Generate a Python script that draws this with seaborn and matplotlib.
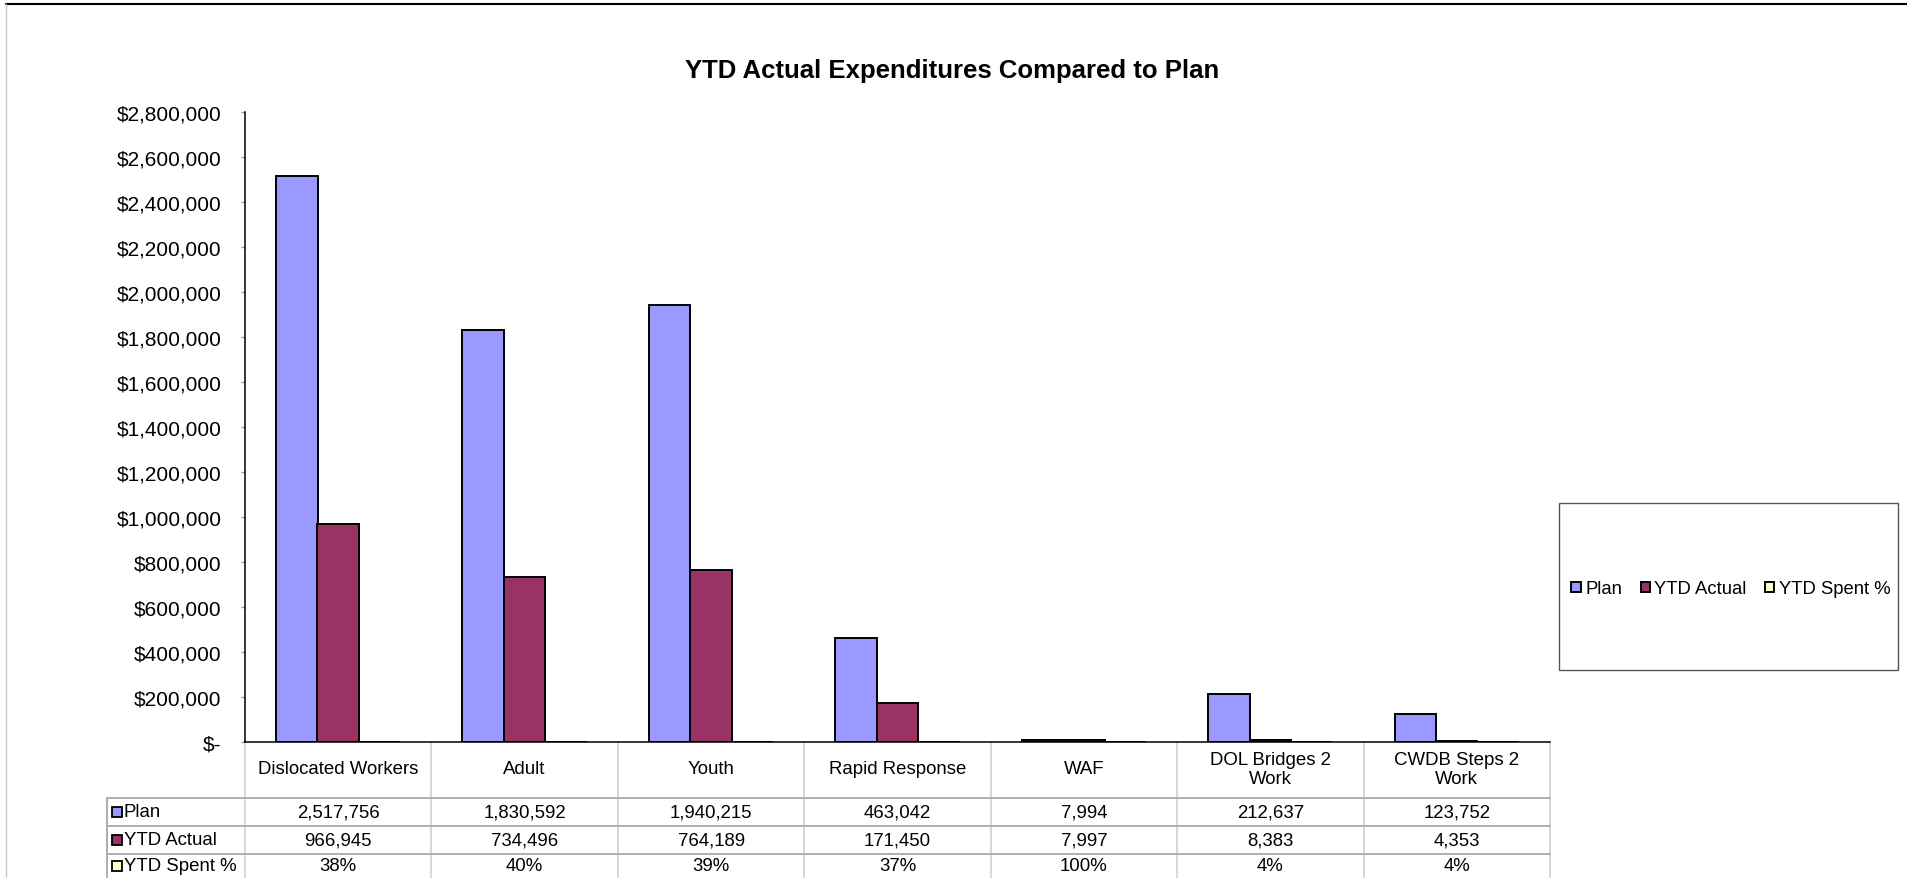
import matplotlib
matplotlib.use("Agg")
import matplotlib.pyplot as plt
import matplotlib.transforms as mtransforms
from matplotlib.patches import Patch, Rectangle
from matplotlib.lines import Line2D
from matplotlib.ticker import FuncFormatter
import seaborn as sns
import pandas as pd

# ---- data -------------------------------------------------------------
programs = ["Dislocated Workers", "Adult", "Youth", "Rapid Response", "WAF",
            "DOL Bridges 2 Work", "CWDB Steps 2 Work"]
program_labels = ["Dislocated Workers", "Adult", "Youth", "Rapid Response", "WAF",
                  "DOL Bridges 2\nWork", "CWDB Steps 2\nWork"]
plan = [2517756, 1830592, 1940215, 463042, 7994, 212637, 123752]
ytd_actual = [966945, 734496, 764189, 171450, 7997, 8383, 4353]
ytd_spent = [0.38, 0.40, 0.39, 0.37, 1.00, 0.04, 0.04]
series = ["Plan", "YTD Actual", "YTD Spent %"]
colors = ["#9999FF", "#993366", "#FFFFCC"]
y_ticks = list(range(0, 2800001, 200000))

# ---- style ------------------------------------------------------------
sns.set_theme(style="white")
plt.rcParams["font.family"] = ["Liberation Sans", "DejaVu Sans"]
plt.rcParams["text.color"] = "black"

W, H = 1908, 879
def fx(px):
    return px / W
def fy(py):
    return 1 - py / H

df = pd.DataFrame({
    "Program": programs * 3,
    "Series": [s for s in series for _ in programs],
    "Value": plan + ytd_actual + ytd_spent,
})

fig = plt.figure(figsize=(W / 100, H / 100), dpi=100)
ax = fig.add_axes([fx(245), fy(743), (1550 - 245) / W, (743 - 113) / H])

sns.barplot(data=df, x="Program", y="Value", hue="Series", order=programs,
            hue_order=series, palette=colors, saturation=1, width=2 / 3,
            edgecolor="black", linewidth=1.4, errorbar=None, legend=False, ax=ax)

ax.set_xlim(-0.5, len(programs) - 0.5)
ax.set_ylim(0, 2800000)
ax.set_yticks(y_ticks)
ax.yaxis.set_major_formatter(FuncFormatter(lambda v, p: "$-" if v == 0 else f"${v:,.0f}"))
ax.set_xlabel("")
ax.set_ylabel("")
ax.tick_params(axis="x", length=0, labelbottom=False)
ax.tick_params(axis="y", length=3, width=1, color="#999999", pad=14,
               labelsize=15, labelcolor="black", left=True)
for side in ["top", "right"]:
    ax.spines[side].set_visible(False)
for side in ["left", "bottom"]:
    ax.spines[side].set_color("black")
    ax.spines[side].set_linewidth(1.1)

# ---- title ------------------------------------------------------------
fig.text(fx(952), fy(71), "YTD Actual Expenditures Compared to Plan",
         ha="center", va="center", fontsize=18.5, fontweight="bold")

# ---- data table under the axis ----------------------------------------
trans = mtransforms.blended_transform_factory(ax.transData, fig.transFigure)
grid_v = "#cfcfcf"
grid_h = "#a8a8a8"

for k in range(len(programs) + 1):
    ax.add_line(Line2D([k - 0.5, k - 0.5], [fy(743), 0], transform=trans,
                       color=grid_v, lw=1.2, clip_on=False))
for yy in [799, 827, 855]:
    fig.add_artist(Line2D([fx(107), fx(1550)], [fy(yy), fy(yy)],
                          transform=fig.transFigure, color=grid_h, lw=1.3))
fig.add_artist(Line2D([fx(107), fx(107)], [fy(799), 0],
                      transform=fig.transFigure, color=grid_h, lw=1.3))

for i, lab in enumerate(program_labels):
    ax.text(i, fy(770), lab, transform=trans, ha="center", va="center",
            fontsize=13.4, linespacing=1.1)

rows = [
    ("Plan", plan, lambda v: f"{v:,.0f}", 813),
    ("YTD Actual", ytd_actual, lambda v: f"{v:,.0f}", 841),
    ("YTD Spent %", ytd_spent, lambda v: f"{v:.0%}", 867),
]
for (name, vals, fmt, yy), col in zip(rows, colors):
    fig.add_artist(Rectangle((fx(112), fy(yy + 5)), 10 / W, 10 / H,
                             transform=fig.transFigure, facecolor=col,
                             edgecolor="black", lw=1.3))
    fig.text(fx(124), fy(yy), name, ha="left", va="center", fontsize=13.4)
    for i, v in enumerate(vals):
        ax.text(i, fy(yy), fmt(v), transform=trans, ha="center", va="center",
                fontsize=13.4)

# ---- legend -----------------------------------------------------------
fig.add_artist(Rectangle((fx(1559), fy(671)), (1898 - 1559) / W, (671 - 504) / H,
                         transform=fig.transFigure, facecolor="white",
                         edgecolor="#555555", lw=1.0))
handles = [Patch(facecolor=c, edgecolor="black", lw=1.4) for c in colors]
fig.legend(handles, series, ncol=3, loc="center",
           bbox_to_anchor=(fx(1731), fy(590)), frameon=False, fontsize=13.3,
           handlelength=0.5, handleheight=0.5, handletextpad=0.25,
           columnspacing=1.0, borderpad=0)

# ---- outer chart frame ------------------------------------------------
fig.add_artist(Line2D([fx(6), 1], [fy(5), fy(5)], transform=fig.transFigure,
                      color="black", lw=1.5))
fig.add_artist(Line2D([fx(6), fx(6)], [fy(5), 0], transform=fig.transFigure,
                      color="#c8c8c8", lw=1.0))

fig.savefig("out.png", dpi=100)
